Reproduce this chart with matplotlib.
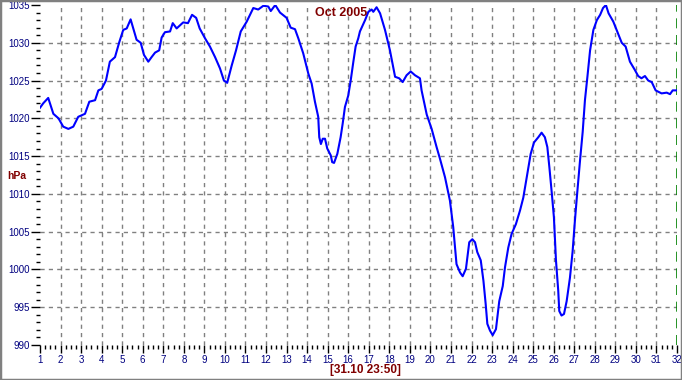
import matplotlib
matplotlib.use("Agg")
import matplotlib.pyplot as plt
from matplotlib.ticker import MultipleLocator
from matplotlib.patches import Rectangle

# air pressure, October 2005 (day of month, hPa)
days = [1.00, 1.16, 1.40, 1.65, 1.90, 2.13, 2.38, 2.62, 2.86, 3.19,
        3.40, 3.68, 3.84, 4.00, 4.21, 4.40, 4.65, 4.86, 5.05, 5.22,
        5.41, 5.70, 5.90, 6.06, 6.27, 6.43, 6.60, 6.80, 6.92, 7.08,
        7.33, 7.46, 7.65, 7.97, 8.20, 8.40, 8.60, 8.77, 9.03, 9.27,
        9.52, 9.76, 9.95, 10.11, 10.33, 10.54, 10.77, 11.06, 11.38, 11.62,
        11.87, 12.11, 12.23, 12.45, 12.68, 13.00, 13.20, 13.41, 13.57, 13.81,
        14.06, 14.22, 14.38, 14.54, 14.59, 14.67, 14.76, 14.87, 14.98, 15.15,
        15.22, 15.31, 15.47, 15.63, 15.73, 15.84, 16.00, 16.12, 16.25, 16.36,
        16.49, 16.57, 16.82, 16.98, 17.14, 17.22, 17.38, 17.55, 17.79, 18.03,
        18.28, 18.48, 18.65, 18.84, 19.04, 19.25, 19.49, 19.57, 19.82, 20.06,
        20.30, 20.47, 20.71, 20.95, 21.11, 21.27, 21.44, 21.57, 21.73, 21.89,
        22.04, 22.17, 22.28, 22.45, 22.58, 22.69, 22.77, 22.90, 23.03, 23.19,
        23.35, 23.52, 23.63, 23.79, 23.95, 24.16, 24.36, 24.52, 24.71, 24.88,
        25.04, 25.25, 25.41, 25.57, 25.69, 25.79, 25.91, 26.01, 26.11, 26.22,
        26.27, 26.38, 26.50, 26.63, 26.79, 26.92, 27.03, 27.14, 27.28, 27.41,
        27.52, 27.64, 27.77, 27.93, 28.10, 28.26, 28.40, 28.54, 28.67, 28.90,
        29.06, 29.31, 29.50, 29.71, 29.95, 30.11, 30.27, 30.44, 30.60, 30.77,
        30.96, 31.25, 31.50, 31.66, 31.79, 31.95]
hpa = [1021.4, 1022.0, 1022.7, 1020.6, 1020.0, 1018.9, 1018.6, 1018.9, 1020.2, 1020.6,
       1022.2, 1022.4, 1023.7, 1023.9, 1025.0, 1027.5, 1028.1, 1030.1, 1031.7, 1031.9,
       1033.1, 1030.4, 1030.0, 1028.4, 1027.5, 1028.1, 1028.7, 1029.0, 1030.7, 1031.4,
       1031.5, 1032.6, 1031.9, 1032.7, 1032.6, 1033.7, 1033.3, 1031.9, 1030.6, 1029.5,
       1028.1, 1026.6, 1025.0, 1024.7, 1027.0, 1029.0, 1031.5, 1032.8, 1034.6, 1034.4,
       1034.9, 1034.8, 1034.2, 1035.0, 1034.0, 1033.3, 1032.0, 1031.8, 1030.6, 1028.6,
       1025.9, 1024.6, 1022.2, 1020.2, 1017.5, 1016.6, 1017.3, 1017.3, 1016.0, 1015.1,
       1014.2, 1014.1, 1015.3, 1017.5, 1019.3, 1021.5, 1023.0, 1025.0, 1027.5, 1029.5,
       1030.6, 1031.5, 1033.0, 1034.1, 1034.4, 1034.1, 1034.7, 1033.9, 1031.7, 1029.0,
       1025.5, 1025.3, 1024.8, 1025.7, 1026.2, 1025.7, 1025.3, 1023.7, 1020.5, 1018.6,
       1016.2, 1014.6, 1012.2, 1009.1, 1005.6, 1000.7, 999.6, 999.1, 1000.1, 1003.6,
       1004.0, 1003.6, 1002.3, 1001.2, 998.5, 995.4, 992.8, 991.9, 991.3, 992.1,
       995.8, 997.8, 1000.3, 1002.9, 1004.7, 1006.0, 1007.8, 1009.5, 1012.6, 1015.3,
       1016.8, 1017.5, 1018.1, 1017.5, 1016.2, 1013.5, 1010.0, 1006.9, 1001.2, 997.2,
       994.5, 993.9, 994.1, 995.8, 998.9, 1002.4, 1006.4, 1010.0, 1014.4, 1018.2,
       1022.4, 1025.5, 1029.0, 1031.7, 1033.0, 1033.7, 1034.6, 1035.0, 1033.9, 1032.8,
       1031.7, 1030.0, 1029.5, 1027.5, 1026.4, 1025.6, 1025.3, 1025.6, 1025.0, 1024.8,
       1023.7, 1023.3, 1023.4, 1023.2, 1023.7, 1023.7]

day_ticks = list(range(1, 33))
hpa_ticks = list(range(990, 1036, 5))

plt.rcParams['font.family'] = ['Liberation Sans', 'DejaVu Sans']

fig = plt.figure(figsize=(6.82, 3.8), dpi=100)
ax = fig.add_axes([40/682, 35/380, 637/682, 340/380])

# grid lines (not on the edges)
for d in day_ticks[1:-1]:
    ax.axvline(d, color='#808080', lw=1.0, ls=(0, (3, 3)), zorder=1)
for p in hpa_ticks[1:-1]:
    ax.axhline(p, color='#808080', lw=1.0, ls=(0, (3, 3)), zorder=1)
ax.axvline(day_ticks[-1], color='#008000', lw=1.2, ls=(0, (6, 4)), zorder=1)

ax.plot(days, hpa, color='#0000ff', lw=1.5, zorder=3)

ax.set_xlim(1, 32)
ax.set_ylim(990, 1035)
ax.set_xticks(day_ticks)
ax.set_yticks(hpa_ticks)
ax.xaxis.set_minor_locator(MultipleLocator(0.25))
ax.yaxis.set_minor_locator(MultipleLocator(1))
ax.tick_params(which='major', width=1, color='black',
               labelcolor='#000080', labelsize=7)
ax.tick_params(axis='x', which='major', length=5.8, pad=1.5)
ax.tick_params(axis='x', which='minor', length=2.9, width=1)
ax.tick_params(axis='y', which='major', length=6.5, pad=1)
ax.tick_params(axis='y', which='minor', length=3.2, width=1)
for s in ax.spines.values():
    s.set_visible(False)

fig.text(0.4997, 0.966, 'Oct 2005', color='#800000', fontsize=9,
         fontweight='bold', ha='center', va='center')
fig.text(17/682, 1-176/380, 'hPa', color='#800000', fontsize=7.5,
         fontweight='bold', ha='center', va='center')
fig.text(365/682, 1-370/380, '[31.10 23:50]', color='#800000', fontsize=8.5,
         fontweight='bold', ha='center', va='center')

fig.patches.append(Rectangle((0, 0), 1, 1, transform=fig.transFigure,
                             fill=False, edgecolor='#808080', lw=2.5))

fig.savefig('out.png', dpi=100)
